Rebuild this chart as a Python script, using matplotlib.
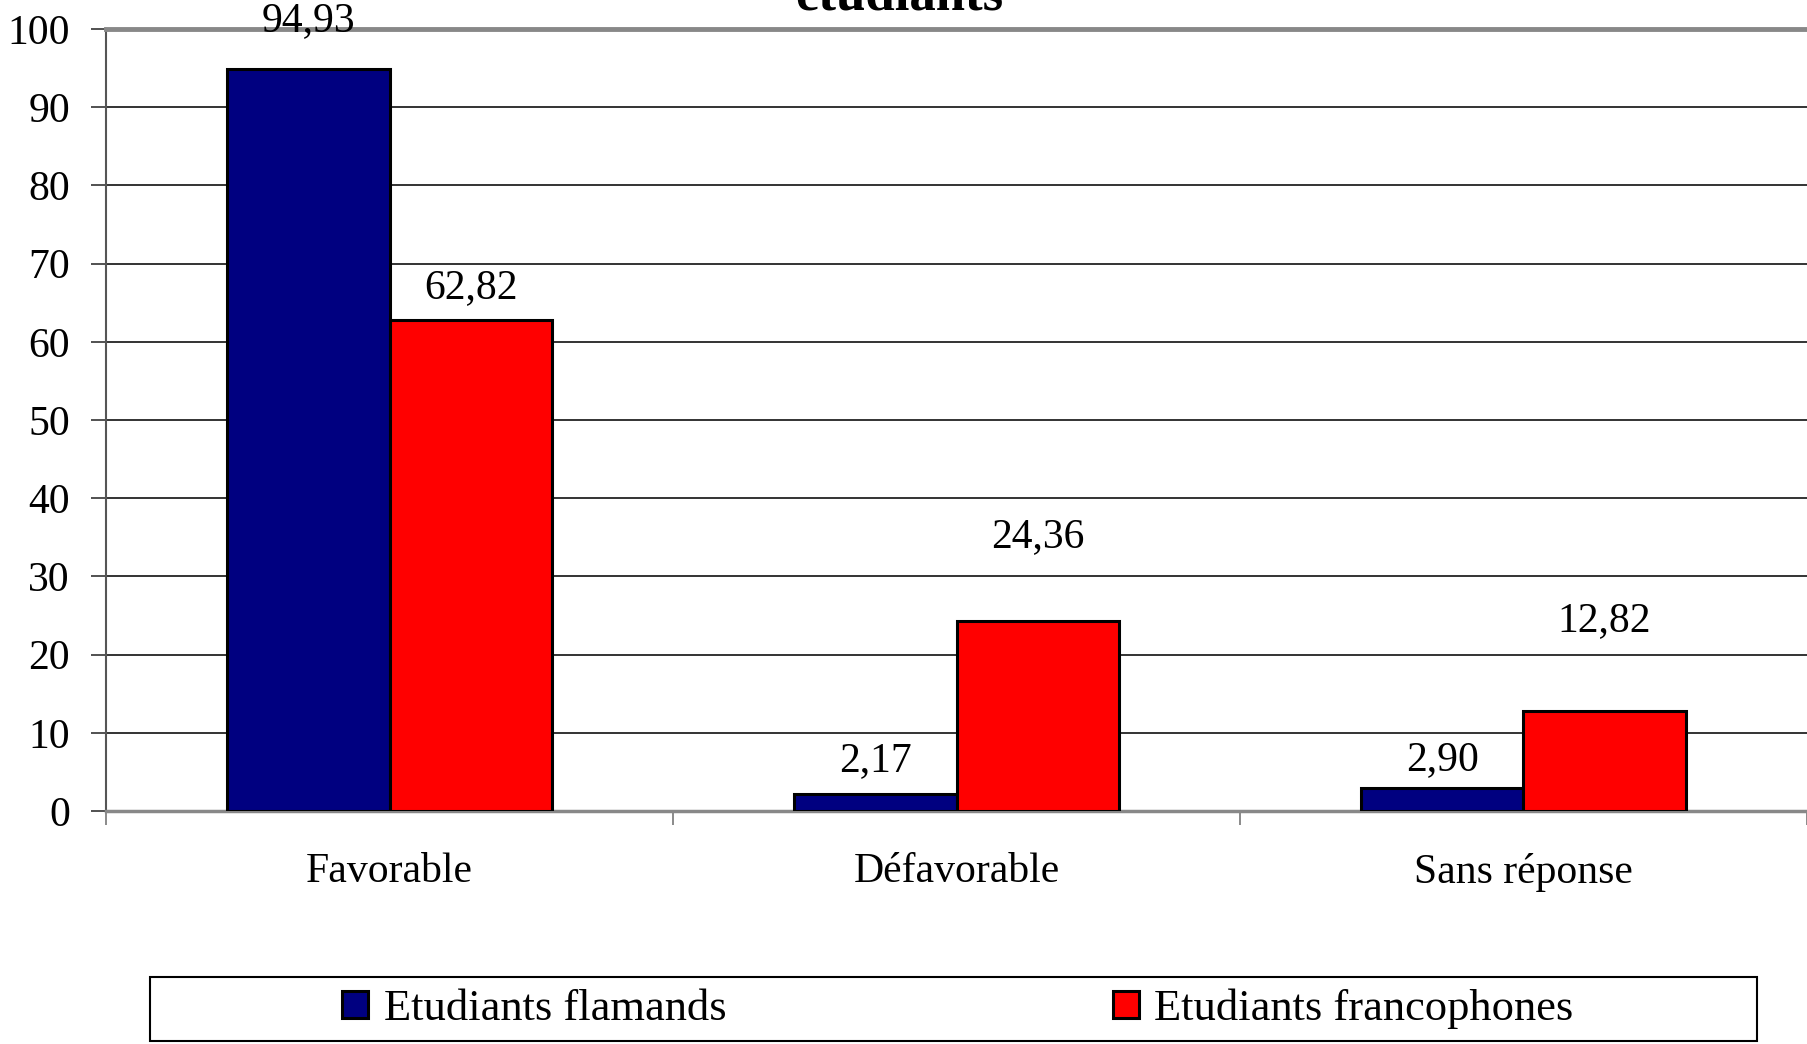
import matplotlib
matplotlib.use("Agg")
import matplotlib.pyplot as plt
import numpy as np
from matplotlib.patches import Rectangle

categories = ["Favorable", "Défavorable", "Sans réponse"]
series_names = ["Etudiants flamands", "Etudiants francophones"]
flamands = [94.93, 2.17, 2.90]
francophones = [62.82, 24.36, 12.82]
value_labels_fl = ["94,93", "2,17", "2,90"]
value_labels_fr = ["62,82", "24,36", "12,82"]
yticks = list(range(0, 101, 10))

# label offsets above the bars (as placed in the original chart)
offset_fl = [6.1, 4.3, 3.6]
offset_fr = [4.1, 10.7, 11.5]

plt.rcParams["font.family"] = ["Liberation Serif", "DejaVu Serif"]

fig = plt.figure(figsize=(18.07, 10.44), dpi=100)
ax = fig.add_axes([106 / 1807, 1 - 811 / 1044, 1 - 106 / 1807, (811 - 29) / 1044])

x = np.arange(len(categories))
w = 0.286
blue, red = "#000080", "#ff0000"
ax.bar(x - w / 2, flamands, w, color=blue, edgecolor="black", linewidth=2.2, zorder=3,
       label=series_names[0])
ax.bar(x + w / 2, francophones, w, color=red, edgecolor="black", linewidth=2.2, zorder=3,
       label=series_names[1])

for i in range(len(categories)):
    ax.text(x[i] - w / 2, flamands[i] + offset_fl[i], value_labels_fl[i],
            ha="center", va="center", fontsize=30, zorder=4, clip_on=False)
    ax.text(x[i] + w / 2, francophones[i] + offset_fr[i], value_labels_fr[i],
            ha="center", va="center", fontsize=30, zorder=4)

ax.set_xlim(-0.5, len(categories) - 0.5)
ax.set_ylim(0, 100)
ax.set_yticks(yticks)
ax.set_yticklabels([str(t) for t in yticks], fontsize=30)
ax.tick_params(axis="y", direction="out", length=11, width=1.2, pad=15, color="#333333")

ax.set_xticks(np.arange(len(categories) + 1) - 0.5)
ax.set_xticklabels([])
ax.set_xticks(x, minor=True)
ax.set_xticklabels(categories, minor=True, fontsize=30)
ax.tick_params(axis="x", which="major", direction="out", length=10, width=1.2, color="#777777")
ax.tick_params(axis="x", which="minor", length=0, pad=30)

ax.yaxis.grid(True, color="#333333", linewidth=1.4, zorder=0)
ax.set_axisbelow(True)
ax.spines["right"].set_visible(False)
ax.spines["top"].set_color("#888888")
ax.spines["top"].set_linewidth(3.5)
ax.spines["bottom"].set_color("#888888")
ax.spines["bottom"].set_linewidth(2.5)
ax.spines["left"].set_color("#555555")
ax.spines["left"].set_linewidth(1.5)

# title, cut off at the top in the original
fig.text(899 / 1807, 1 - 10 / 1044, "étudiants", ha="center", va="baseline",
         fontsize=38, fontweight="bold")

# legend
fig.add_artist(Rectangle((150 / 1807, 1 - 1041 / 1044), (1757 - 150) / 1807, 64 / 1044,
                         transform=fig.transFigure, facecolor="white",
                         edgecolor="black", linewidth=1.5))
handles, labels = ax.get_legend_handles_labels()
fig.legend(handles, labels, loc="center", bbox_to_anchor=(958 / 1807, 1 - 1009 / 1044),
           ncol=2, frameon=False, fontsize=32, handlelength=0.58, handleheight=0.58,
           handletextpad=0.35, columnspacing=8.7)

fig.savefig("out.png", dpi=100)
